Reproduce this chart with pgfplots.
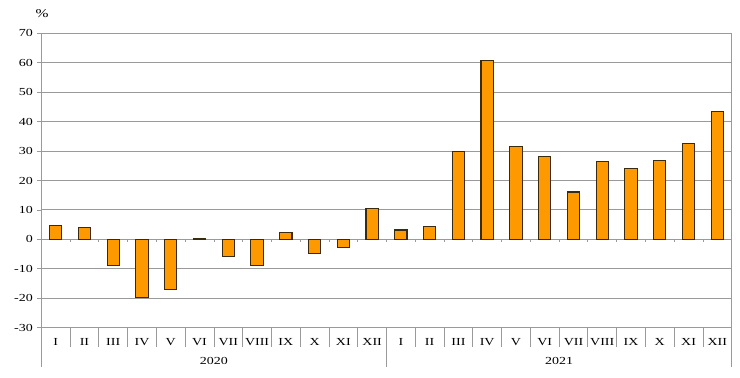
\documentclass[border=0pt]{standalone}
\usepackage{fontspec}
\setmainfont{Liberation Serif}[FakeStretch=1.3]
\usepackage{pgfplots}
\pgfplotsset{compat=1.18}
\definecolor{barfill}{HTML}{FF9900}
\definecolor{barline}{HTML}{3A2A10}
\definecolor{gridc}{HTML}{9A9A9A}
\begin{document}
\begin{tikzpicture}
\path[use as bounding box] (0,0) rectangle (740bp,378bp);
\begin{axis}[
  at={(41.3bp,50.3bp)}, anchor=south west,
  scale only axis, width=690.4bp, height=294.4bp,
  xmin=-0.5, xmax=23.5, ymin=-30, ymax=70,
  ytick={-30,-20,...,70},
  ymajorgrids, grid style={gridc, line width=1pt},
  axis line style={gridc, line width=1pt},
  ytick pos=left, tick align=outside,
  major tick length=4bp,
  ytick style={gridc, line width=0.8pt},
  yticklabel style={xshift=-1bp},
  xtick={0,...,23},
  xticklabels={I,II,III,IV,V,VI,VII,VIII,IX,X,XI,XII,I,II,III,IV,V,VI,VII,VIII,IX,X,XI,XII},
  x tick style={draw=none},
  xticklabel style={yshift=-3bp},
  tick label style={font=\fontsize{10.8}{12}\selectfont},
  /pgf/number format/assume math mode=true,
  ybar, bar width=12.3bp,
  clip=false,
]
\draw[gridc, line width=1pt] (axis cs:-0.5,0) -- (axis cs:23.5,0);
\pgfplotsinvokeforeach{0.5,1.5,...,22.5}{
  \draw[gridc, line width=0.8pt] (axis cs:#1,0) -- ++(0pt,-3bp);
}
\addplot[fill=barfill, draw=barline, line width=1.1pt] coordinates {
(0,4.8) (1,4.1) (2,-8.9) (3,-19.7) (4,-17.0) (5,0.3) (6,-5.9) (7,-8.8) (8,2.3) (9,-4.9) (10,-2.8) (11,10.4)
(12,3.2) (13,4.5) (14,30.0) (15,60.9) (16,31.4) (17,28.2) (18,16.1) (19,26.5) (20,24.1) (21,26.8) (22,32.5) (23,43.5)
};
\pgfplotsinvokeforeach{0.5,1.5,...,10.5}{
  \draw[gridc, line width=0.8pt] (axis cs:#1,-30) -- ++(0pt,-19.3bp);
}
\pgfplotsinvokeforeach{12.5,13.5,...,22.5}{
  \draw[gridc, line width=0.8pt] (axis cs:#1,-30) -- ++(0pt,-19.3bp);
}
\pgfplotsinvokeforeach{-0.5,11.5,23.5}{
  \draw[gridc, line width=0.8pt] (axis cs:#1,-30) -- ++(0pt,-39.3bp);
}
\node[font=\fontsize{10.8}{12}\selectfont] at ([yshift=-33.3bp]axis cs:5.5,-30) {2020};
\node[font=\fontsize{10.8}{12}\selectfont] at ([yshift=-33.3bp]axis cs:17.5,-30) {2021};
\end{axis}
\node[font=\fontsize{12}{14}\selectfont] at (42bp,364bp) {\%};
\end{tikzpicture}
\end{document}
